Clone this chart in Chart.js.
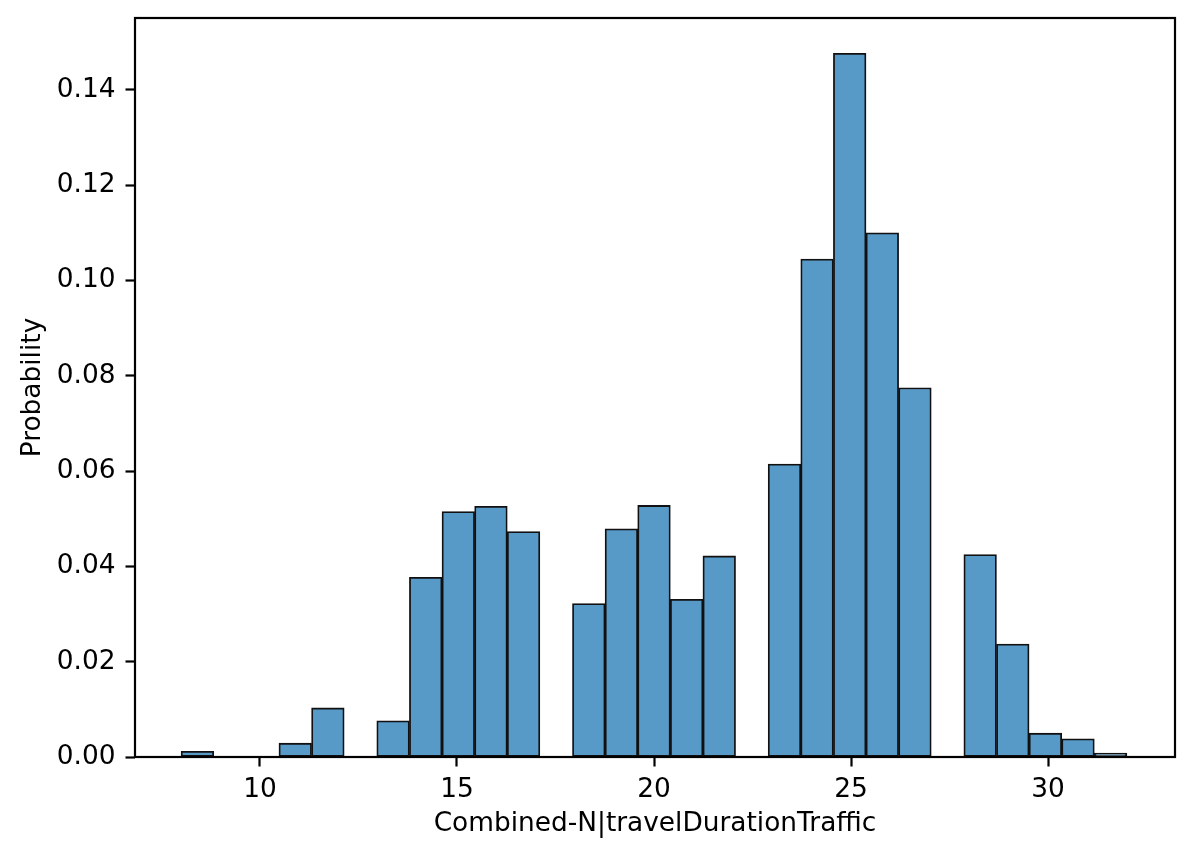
<!DOCTYPE html>
<html lang="en">
<head>
  <meta charset="UTF-8" />
  <title>Combined-N|travelDurationTraffic histogram</title>
  <script src="https://cdn.jsdelivr.net/npm/chart.js"></script>
  <style>
    html, body { margin: 0; padding: 0; background: #fff; }
    #wrap { width: 1194px; height: 859px; }
  </style>
</head>
<body>
  <div id="wrap"><canvas id="hist" width="1194" height="859"></canvas></div>

  <script>
    // histogram bins: 29 equal bins between 8 and 32
    const binStart = 8;
    const binEnd = 32;
    const probabilities = [
      0.0012, 0, 0, 0.0029, 0.0103, 0, 0.0076, 0.0377, 0.0515, 0.0526,
      0.0473, 0, 0.0322, 0.0479, 0.0528, 0.0331, 0.0422, 0, 0.0615, 0.1045,
      0.1477, 0.1100, 0.0775, 0, 0.0425, 0.0237, 0.0050, 0.0038, 0.0008
    ];
    const xTicks = [10, 15, 20, 25, 30];
    const yTicks = [0, 0.02, 0.04, 0.06, 0.08, 0.10, 0.12, 0.14];
    const xLabel = 'Combined-N|travelDurationTraffic';
    const yLabel = 'Probability';

    const binWidth = (binEnd - binStart) / probabilities.length;
    const points = probabilities.map((p, i) => ({ x: binStart + (i + 0.5) * binWidth, y: p }));

    const font = { family: 'DejaVu Sans', size: 26.4 };

    const framePlugin = {
      id: 'frame',
      afterDraw(chart) {
        const { ctx, chartArea: a } = chart;
        ctx.save();
        ctx.strokeStyle = '#000';
        ctx.lineWidth = 2.2;
        ctx.strokeRect(a.left, a.top, a.right - a.left, a.bottom - a.top);
        ctx.restore();
      }
    };

    new Chart(document.getElementById('hist'), {
      type: 'bar',
      data: {
        datasets: [{
          data: points,
          backgroundColor: 'rgb(87,153,199)',
          borderColor: '#111',
          borderWidth: 1.8,
          borderSkipped: false,
          barPercentage: 1,
          categoryPercentage: 1
        }]
      },
      options: {
        responsive: false,
        animation: false,
        events: [],
        layout: { padding: { left: 0, right: 19, top: 18, bottom: 0 } },
        plugins: { legend: { display: false }, tooltip: { enabled: false } },
        scales: {
          x: {
            type: 'linear',
            min: 6.83,
            max: 33.22,
            offset: false,
            afterBuildTicks: s => { s.ticks = xTicks.map(v => ({ value: v })); },
            afterFit: s => { s.height = 102; s.paddingLeft = 0; s.paddingRight = 0; },
            ticks: { color: '#000', font, padding: 8, maxRotation: 0, callback: v => String(v) },
            grid: { display: true, offset: false, drawOnChartArea: false, drawTicks: true, tickLength: 9.5, tickWidth: 2.2, tickColor: '#000' },
            border: { display: false },
            title: { display: true, text: xLabel, color: '#000', font, padding: { top: 0, bottom: 19 } }
          },
          y: {
            min: 0,
            max: 0.1551,
            afterBuildTicks: s => { s.ticks = yTicks.map(v => ({ value: v })); },
            afterFit: s => { s.width = 135; s.paddingTop = 0; s.paddingBottom = 0; },
            ticks: { color: '#000', font, padding: 10, callback: v => v.toFixed(2) },
            grid: { display: true, offset: false, drawOnChartArea: false, drawTicks: true, tickLength: 9.5, tickWidth: 2.2, tickColor: '#000' },
            border: { display: false },
            title: { display: true, text: yLabel, color: '#000', font, padding: { top: 17, bottom: 0 } }
          }
        }
      },
      plugins: [framePlugin]
    });
  </script>
</body>
</html>
